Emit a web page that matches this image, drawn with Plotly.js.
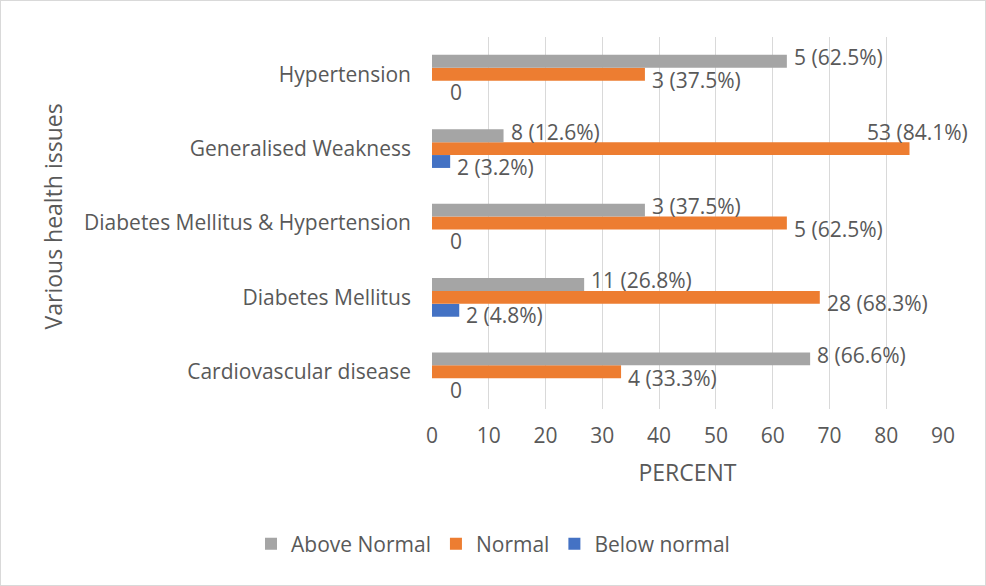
<!DOCTYPE html>
<html>
<head>
<meta charset="utf-8">
<script src="https://cdn.plot.ly/plotly-3.0.1.min.js"></script>
<style>
  body { margin: 0; background: #fff; }
  #myDiv { width: 984px; height: 584px; border: 1px solid #d9d9d9; }
</style>
</head>
<body>
<div id="myDiv"></div>
<script>
// categories, bottom to top as drawn
var issues = ['Cardiovascular disease', 'Diabetes Mellitus', 'Diabetes Mellitus & Hypertension',
              'Generalised Weakness', 'Hypertension'];

// percent values per series
var aboveNormal = [66.6, 26.8, 37.5, 12.6, 62.5];
var normal      = [33.3, 68.3, 62.5, 84.1, 37.5];
var belowNormal = [0, 4.8, 0, 3.2, 0];

// patient counts shown in the labels
var aboveCount  = [8, 11, 3, 8, 5];
var normalCount = [4, 28, 5, 53, 3];
var belowCount  = [0, 2, 0, 2, 0];

var xTicks = [0, 10, 20, 30, 40, 50, 60, 70, 80, 90];

var grey = '#595959';
function f(size) { return {family: 'Open Sans', size: size, color: grey}; }

function series(name, vals, color) {
    return {
        type: 'bar',
        orientation: 'h',
        name: name,
        y: issues,
        x: vals,
        hoverinfo: 'none',
        marker: {color: color}
    };
}

// first trace sits lowest in each group
var data = [
    series('Below normal', belowNormal, '#4472c4'),
    series('Normal', normal, '#ed7d31'),
    series('Above Normal', aboveNormal, '#a5a5a5')
];

// value labels, placed at the bar ends like Excel's outside-end labels
var annotations = [];
function addLabels(vals, counts, barShift, nudge) {
    vals.forEach(function(v, i) {
        var a = {
            x: v, y: issues[i], xref: 'x', yref: 'y',
            text: counts[i] === 0 ? '0' : counts[i] + ' (' + v + '%)',
            showarrow: false, font: f(21),
            xanchor: 'left', yanchor: 'middle',
            xshift: counts[i] === 0 ? 16 : 5,
            yshift: barShift + nudge
        };
        if (v > 75) { // no room on the right: lift it above the bar end
            a.xanchor = 'right';
            a.xshift = 60;
            a.yshift = barShift + 17;
        }
        annotations.push(a);
    });
}
addLabels(aboveNormal, aboveCount, 13, 4);
addLabels(normal, normalCount, 0, -6);
addLabels(belowNormal, belowCount, -13, -5);

// y axis title, set a little closer to the labels than plotly puts it
annotations.push({
    text: 'Various health issues',
    xref: 'paper', yref: 'paper',
    x: -0.742, y: 0.517,
    xanchor: 'center', yanchor: 'middle',
    textangle: -90,
    showarrow: false,
    font: f(23)
});

var layout = {
    width: 984,
    height: 584,
    margin: {l: 431, r: 42, t: 36, b: 176},
    paper_bgcolor: '#ffffff',
    plot_bgcolor: '#ffffff',
    font: {family: 'Open Sans', color: grey},
    barmode: 'group',
    bargap: 0.48,
    bargroupgap: 0,
    showlegend: true,
    annotations: annotations,
    xaxis: {
        range: [0, 90],
        tickvals: xTicks,
        ticks: '',
        ticklabelstandoff: 12,
        tickfont: f(21),
        showgrid: true,
        gridcolor: '#d9d9d9',
        gridwidth: 1,
        zeroline: false,
        showline: false,
        fixedrange: true,
        title: {text: 'PERCENT', font: f(23), standoff: 16}
    },
    yaxis: {
        type: 'category',
        categoryorder: 'array',
        categoryarray: issues,
        ticks: '',
        ticklabelstandoff: 20,
        tickfont: f(21),
        showgrid: false,
        zeroline: false,
        showline: false,
        fixedrange: true
    },
    legend: {
        orientation: 'h',
        traceorder: 'reversed',
        xref: 'container',
        yref: 'container',
        x: 0.5,
        xanchor: 'center',
        y: 0.07,
        yanchor: 'middle',
        font: f(21),
        itemwidth: 30
    }
};

Plotly.newPlot('myDiv', data, layout, {displayModeBar: false, staticPlot: true});
</script>
</body>
</html>
